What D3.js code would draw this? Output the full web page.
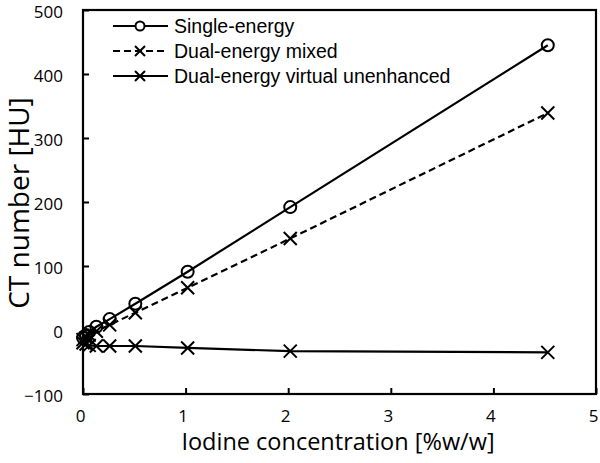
<!DOCTYPE html>
<html><head><meta charset="utf-8">
<script src="https://cdn.jsdelivr.net/npm/d3@7"></script>
<style>body{margin:0;background:#fff}svg{display:block}</style>
</head><body>
<svg id="c" width="600" height="463"></svg>
<script>
const conc = [0, 0.03, 0.06, 0.13, 0.26, 0.51, 1.02, 2.02, 4.53];
const singleEnergy = [-12, -8, -3, 5, 17, 41, 91, 192, 445];
const dualMixed = [-15, -12, -8, -2, 8, 27, 66, 143, 339];
const dualVirtual = [-20, -22, -24, -25, -25, -25, -28, -33, -35];
const xTicks = [0, 1, 2, 3, 4, 5];
const yTicks = [-100, 0, 100, 200, 300, 400, 500];
const seriesNames = ["Single-energy", "Dual-energy mixed", "Dual-energy virtual unenhanced"];

const svg = d3.select("#c");
const L = 83, R = 596, T = 10, B = 394;
const x = d3.scaleLinear().domain([0, 5]).range([L, R]);
const y = d3.scaleLinear().domain([-100, 500]).range([B, T]);
const tickFont = "'Open Sans', 'Noto Sans', sans-serif";

// axes (ticks inward)
const xa = svg.append("g").attr("transform", `translate(0,${B})`)
  .call(d3.axisBottom(x).tickValues(xTicks).tickSize(-6).tickPadding(16).tickFormat(d3.format("d")));
const ya = svg.append("g").attr("transform", `translate(${L},0)`)
  .call(d3.axisLeft(y).tickValues(yTicks).tickSize(-6).tickPadding(20).tickFormat(d3.format("d")));
[xa, ya].forEach(a => {
  a.select(".domain").remove();
  a.selectAll(".tick line").attr("stroke", "#000").attr("stroke-width", 2);
  a.selectAll(".tick text").attr("font-family", tickFont).attr("font-size", 17).attr("fill", "#000");
});
xa.selectAll(".tick text").attr("dx", -3);
ya.selectAll(".tick text").attr("dy", "0.45em");
// frame
svg.append("rect").attr("x", L).attr("y", T).attr("width", R - L).attr("height", B - T)
  .attr("fill", "none").attr("stroke", "#000").attr("stroke-width", 2.2);

// titles
svg.append("text").attr("x", 338).attr("y", 450).attr("text-anchor", "middle")
  .attr("font-family", tickFont).attr("font-size", 23.5).text("Iodine concentration [%w/w]");
svg.append("text").attr("transform", "translate(29,203) rotate(-90)").attr("text-anchor", "middle")
  .attr("font-family", tickFont).attr("font-size", 28).text("CT number [HU]");

const line = d3.line().x((d, i) => x(conc[i])).y(d => y(d));
const series = [
  {vals: singleEnergy, dash: null, marker: "circle"},
  {vals: dualMixed, dash: "7,4", marker: "cross"},
  {vals: dualVirtual, dash: null, marker: "cross"}
];
function drawMarker(g, type, cx, cy) {
  if (type === "circle") {
    g.append("circle").attr("cx", cx).attr("cy", cy).attr("r", 6)
      .attr("fill", "none").attr("stroke", "#000").attr("stroke-width", 2);
  } else {
    const s = 6.5;
    g.append("path").attr("d", `M${cx - s},${cy - s}L${cx + s},${cy + s}M${cx - s},${cy + s}L${cx + s},${cy - s}`)
      .attr("stroke", "#000").attr("stroke-width", 2).attr("fill", "none");
  }
}
series.forEach(s => {
  const g = svg.append("g");
  g.append("path").datum(s.vals).attr("d", line).attr("fill", "none")
    .attr("stroke", "#000").attr("stroke-width", 2.2).attr("stroke-dasharray", s.dash);
  s.vals.forEach((v, i) => drawMarker(g, s.marker, x(conc[i]), y(v)));
});

// legend
const legY = [26, 51, 76];
series.forEach((s, i) => {
  svg.append("line").attr("x1", 113).attr("x2", 168).attr("y1", legY[i]).attr("y2", legY[i])
    .attr("stroke", "#000").attr("stroke-width", 2.2).attr("stroke-dasharray", s.dash);
  const m = svg.append("g");
  if (s.marker === "circle") {
    m.append("circle").attr("cx", 140).attr("cy", legY[i]).attr("r", 4.5)
      .attr("fill", "#fff").attr("stroke", "#000").attr("stroke-width", 2);
  } else {
    const k = 5;
    m.append("path").attr("d", `M${140 - k},${legY[i] - k}L${140 + k},${legY[i] + k}M${140 - k},${legY[i] + k}L${140 + k},${legY[i] - k}`)
      .attr("stroke", "#000").attr("stroke-width", 2);
  }
  svg.append("text").attr("x", 174).attr("y", legY[i]).attr("dy", "0.35em")
    .attr("font-family", "'Liberation Sans', Arial, sans-serif").attr("font-size", 19.5)
    .text(seriesNames[i]);
});
</script>
</body></html>
